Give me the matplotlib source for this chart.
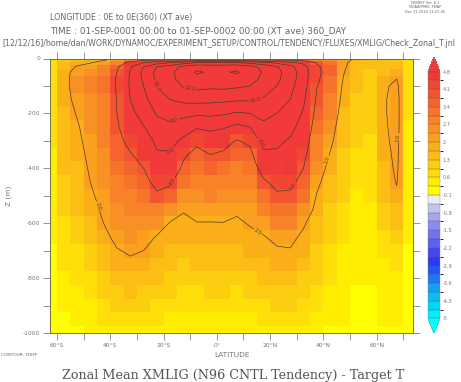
import matplotlib
matplotlib.use('Agg')
import matplotlib.pyplot as plt
import numpy as np
from matplotlib.colors import ListedColormap, BoundaryNorm

# latitude of each model column (deg) and depth of each level (m)
lat = [-62.5, -57.5, -52.5, -47.5, -42.5, -37.5, -32.5, -27.5, -22.5, -17.5,
       -12.5, -7.5, -2.5, 2.5, 7.5, 12.5, 17.5, 22.5, 27.5, 32.5,
       37.5, 42.5, 47.5, 52.5, 57.5, 62.5, 67.5, 72.5]
depth = [5, 15, 30, 50, 75, 100, 150, 200, 250, 300, 350, 400, 450, 500,
         550, 600, 650, 700, 750, 800, 850, 900, 950, 1000]

# FDIFF profile (top -> bottom) for every latitude column
fdiff_by_lat = [
    [0.9, 0.9, 0.9, 0.9, 0.85, 0.8, 0.75, 0.7, 0.65, 0.6, 0.55, 0.5, 0.45, 0.4, 0.35, 0.3, 0.25, 0.2, 0.2, 0.15, 0.15, 0.1, 0.1, 0.1],
    [1.2, 1.4, 1.6, 1.7, 1.7, 1.7, 1.65, 1.6, 1.5, 1.45, 1.4, 1.3, 1.2, 1.1, 1.0, 0.9, 0.8, 0.7, 0.6, 0.5, 0.4, 0.3, 0.2, 0.15],
    [1.6, 1.8, 2.05, 2.3, 2.4, 2.4, 2.25, 2.05, 1.9, 1.8, 1.7, 1.6, 1.5, 1.4, 1.3, 1.2, 1.05, 0.9, 0.8, 0.65, 0.5, 0.4, 0.3, 0.2],
    [1.7, 1.95, 2.3, 2.6, 2.7, 2.7, 2.6, 2.5, 2.4, 2.3, 2.2, 2.1, 2.0, 1.85, 1.7, 1.55, 1.4, 1.2, 1.0, 0.85, 0.7, 0.55, 0.4, 0.3],
    [1.9, 2.3, 2.7, 3.0, 3.1, 3.1, 3.0, 2.9, 2.8, 2.7, 2.6, 2.5, 2.4, 2.3, 2.15, 2.0, 1.8, 1.6, 1.4, 1.2, 1.0, 0.8, 0.6, 0.4],
    [2.3, 3.0, 3.7, 4.0, 4.1, 4.1, 4.05, 4.0, 3.8, 3.6, 3.4, 3.2, 3.0, 2.8, 2.6, 2.4, 2.2, 1.95, 1.75, 1.5, 1.25, 1.0, 0.75, 0.5],
    [3.0, 4.5, 5.8, 6.1, 6.2, 6.2, 6.0, 5.6, 5.0, 4.4, 3.9, 3.5, 3.2, 3.0, 2.8, 2.6, 2.4, 2.1, 1.85, 1.6, 1.35, 1.1, 0.8, 0.55],
    [3.5, 6.0, 8.0, 8.5, 8.3, 8.0, 7.4, 6.6, 5.9, 5.0, 4.5, 4.0, 3.6, 3.2, 2.9, 2.6, 2.3, 2.0, 1.75, 1.5, 1.25, 1.0, 0.75, 0.5],
    [3.6, 7.0, 10.0, 10.5, 10.4, 10.1, 9.2, 8.2, 7.2, 6.4, 5.8, 5.2, 4.4, 3.8, 3.0, 2.4, 1.95, 1.7, 1.5, 1.3, 1.1, 0.85, 0.6, 0.4],
    [3.7, 8.0, 11.0, 11.6, 11.5, 11.0, 10.0, 8.7, 7.6, 6.6, 5.8, 5.0, 4.2, 3.5, 2.5, 1.95, 1.75, 1.55, 1.35, 1.15, 0.95, 0.75, 0.5, 0.3],
    [3.8, 9.0, 12.5, 13.0, 12.7, 12.2, 10.5, 8.5, 7.0, 5.6, 4.2, 3.7, 3.1, 2.6, 2.05, 1.85, 1.65, 1.45, 1.25, 1.05, 0.85, 0.65, 0.45, 0.25],
    [3.9, 10.0, 13.5, 14.2, 13.5, 12.6, 10.6, 8.3, 6.2, 4.3, 3.6, 3.2, 2.9, 2.65, 2.2, 1.98, 1.75, 1.55, 1.35, 1.12, 0.9, 0.7, 0.48, 0.25],
    [3.9, 10.0, 13.2, 13.8, 13.3, 12.4, 10.5, 8.4, 6.5, 4.8, 4.0, 3.4, 3.0, 2.7, 2.3, 1.97, 1.8, 1.6, 1.4, 1.2, 0.95, 0.72, 0.5, 0.28],
    [3.9, 10.0, 13.3, 13.8, 13.4, 12.5, 10.4, 8.2, 6.2, 4.5, 3.8, 3.3, 2.9, 2.6, 2.3, 1.98, 1.78, 1.58, 1.38, 1.18, 0.95, 0.72, 0.5, 0.28],
    [3.9, 10.0, 13.5, 14.2, 13.3, 12.3, 10.2, 7.8, 5.5, 3.9, 3.4, 3.0, 2.7, 2.4, 2.1, 1.9, 1.7, 1.5, 1.3, 1.1, 0.9, 0.7, 0.48, 0.27],
    [3.8, 9.5, 12.6, 13.0, 12.6, 12.0, 10.2, 8.0, 6.0, 4.3, 3.6, 3.2, 2.9, 2.6, 2.3, 2.05, 1.85, 1.65, 1.45, 1.25, 1.0, 0.78, 0.55, 0.3],
    [3.7, 8.5, 11.5, 11.8, 11.6, 11.0, 9.8, 8.6, 7.5, 6.7, 5.6, 4.6, 3.8, 3.3, 2.8, 2.3, 1.95, 1.75, 1.55, 1.35, 1.12, 0.9, 0.65, 0.4],
    [3.6, 7.5, 10.2, 10.6, 10.4, 10.0, 9.0, 8.0, 7.1, 6.4, 5.7, 5.0, 4.4, 3.8, 3.2, 2.7, 2.2, 1.9, 1.65, 1.45, 1.2, 0.95, 0.7, 0.45],
    [3.5, 6.5, 8.6, 9.0, 8.9, 8.6, 8.0, 7.2, 6.5, 5.8, 5.2, 4.7, 4.3, 3.8, 3.2, 2.7, 2.2, 1.95, 1.7, 1.5, 1.25, 1.0, 0.75, 0.5],
    [3.3, 5.5, 6.8, 7.0, 6.9, 6.7, 6.3, 5.8, 5.3, 4.8, 4.4, 4.0, 3.6, 3.1, 2.6, 2.1, 1.85, 1.65, 1.45, 1.25, 1.05, 0.85, 0.6, 0.4],
    [2.8, 3.9, 4.2, 4.3, 4.2, 4.05, 3.8, 3.5, 3.2, 2.95, 2.7, 2.45, 2.2, 1.95, 1.75, 1.55, 1.4, 1.25, 1.1, 0.95, 0.8, 0.62, 0.45, 0.3],
    [2.5, 3.2, 3.4, 3.4, 3.3, 3.2, 2.95, 2.7, 2.4, 2.2, 1.95, 1.75, 1.55, 1.4, 1.25, 1.1, 0.95, 0.8, 0.7, 0.6, 0.5, 0.4, 0.3, 0.2],
    [2.3, 2.2, 2.15, 2.05, 1.95, 1.85, 1.7, 1.55, 1.45, 1.35, 1.25, 1.15, 1.05, 0.95, 0.85, 0.75, 0.65, 0.55, 0.5, 0.45, 0.4, 0.3, 0.25, 0.2],
    [1.8, 1.6, 1.5, 1.45, 1.4, 1.35, 1.25, 1.15, 1.05, 0.95, 0.85, 0.75, 0.65, 0.55, 0.5, 0.45, 0.4, 0.35, 0.3, 0.25, 0.2, 0.18, 0.15, 0.12],
    [1.4, 1.3, 1.3, 1.25, 1.2, 1.15, 1.1, 1.0, 0.95, 0.9, 0.85, 0.8, 0.7, 0.6, 0.5, 0.45, 0.4, 0.35, 0.3, 0.25, 0.2, 0.15, 0.12, 0.1],
    [1.3, 1.4, 1.5, 1.6, 1.75, 1.85, 1.9, 1.9, 1.85, 1.8, 1.7, 1.6, 1.5, 1.35, 1.2, 1.0, 0.85, 0.7, 0.55, 0.45, 0.35, 0.3, 0.25, 0.2],
    [1.2, 1.4, 1.6, 1.8, 2.0, 2.2, 2.3, 2.3, 2.3, 2.25, 2.2, 2.15, 2.05, 1.85, 1.6, 1.3, 1.0, 0.8, 0.6, 0.45, 0.35, 0.3, 0.25, 0.2],
    [0.6, 0.6, 0.6, 0.6, 0.6, 0.6, 0.6, 0.6, 0.55, 0.55, 0.5, 0.5, 0.45, 0.4, 0.35, 0.3, 0.25, 0.2, 0.2, 0.15, 0.15, 0.1, 0.1, 0.1],
]

shade_levels = [-5, -4.65, -4.3, -3.95, -3.6, -3.25, -2.9, -2.55, -2.2, -1.85,
                -1.5, -1.15, -0.8, -0.45, -0.1, 0.25, 0.6, 0.95, 1.3, 1.65,
                2.0, 2.35, 2.7, 3.05, 3.4, 3.75, 4.1, 4.45, 4.8]
cbar_ticks = [4.8, 4.1, 3.4, 2.7, 2, 1.3, 0.6, -0.1, -0.8, -1.5, -2.2, -2.9, -3.6, -4.3, -5]
contour_levels = [2, 4, 6, 8, 10, 12, 14]

x_ticks = [-60, -50, -40, -30, -20, -10, 0, 10, 20, 30, 40, 50, 60, 70]
x_labels = ['60°S', '', '40°S', '', '20°S', '', '0°', '', '20°N', '', '40°N', '', '60°N', '']
y_ticks = [0, -100, -200, -300, -400, -500, -600, -700, -800, -900, -1000]
y_labels = ['0', '', '-200', '', '-400', '', '-600', '', '-800', '', '-1000']

band_colors = ['#00f0fa', '#00d7f5', '#0abef5', '#14a0f5', '#1e78f5', '#2355f5', '#2d37f5',
               '#4646f0', '#5f5ff0', '#7373f0', '#8c8cf0', '#a5a5f0', '#c3c3f0', '#ebebfa',
               '#ffff00', '#ffee00', '#ffde0a', '#fdce0f', '#fcbe14', '#faaf19', '#faa01e',
               '#f89123', '#f78228', '#f6732a', '#f5642d', '#f35530', '#f04632', '#ee3a34']

# where the contour labels sit (lat, z)
label_spots = [(-45, -540), (15.5, -630), (41.4, -370), (69.5, -290),
               (-17.5, -445), (29, -470), (-16.8, -340), (15.5, -310),
               (-15.6, -236), (-24, -104), (15, -169), (-10, -107)]

W, H = 461, 382
grey = '#6a6a6a'

fdiff = np.array(fdiff_by_lat).T
z = -np.array(depth)

cmap = ListedColormap(band_colors)
cmap.set_over('#f23a3a')
cmap.set_under('#00ffff')
norm = BoundaryNorm(shade_levels, cmap.N)

fig = plt.figure(figsize=(W / 100, H / 100), dpi=100)
ax = fig.add_axes([50 / W, 1 - 333 / H, 363 / W, 274.5 / H])

pcm = ax.pcolormesh(lat, z, fdiff, cmap=cmap, norm=norm, shading='nearest')
cs = ax.contour(lat, z, fdiff, levels=contour_levels, colors='#4b3a2c', linewidths=0.5)

ax.set_xlim(-62.6, 73.6)
ax.set_ylim(-1000, 0)
ax.clabel(cs, fmt='%.1f', fontsize=3.6, inline=True, inline_spacing=1, manual=label_spots)

ax.set_xticks(x_ticks)
ax.set_xticklabels(x_labels)
ax.set_yticks(y_ticks)
ax.set_yticklabels(y_labels)
ax.tick_params(direction='out', length=5, width=0.5, color=grey, top=True, right=True,
               labelsize=4.3, labelcolor='#777777', pad=2)
for s in ax.spines.values():
    s.set_color('#5a5a50')
    s.set_linewidth(0.6)
ax.set_xlabel('LATITUDE', fontsize=5.3, color='#777777', labelpad=3)
ax.set_ylabel('Z (m)', fontsize=5.3, color='#777777', labelpad=8)

# colour key
cax = fig.add_axes([428 / W, 1 - 333 / H, 12 / W, 276 / H])
cb = fig.colorbar(pcm, cax=cax, extend='both', extendfrac=0.059, drawedges=True,
                  ticks=cbar_ticks)
cb.ax.set_yticklabels([f'{t:g}' for t in cbar_ticks])
cb.ax.tick_params(length=0, labelsize=3.6, labelcolor='#777777', pad=2)
cb.outline.set_linewidth(0.3)
cb.outline.set_edgecolor('#888888')
cb.dividers.set_color('#555555')
cb.dividers.set_linewidth(0.3)


# header / footer text
def ftext(x, y, s, color='#666666', **kw):
    fig.text(x / W, 1 - y / H, s, color=color, **kw)


ftext(425, 3, 'FERRET Ver. 6.1', fontsize=2.6, ha='center', va='center')
ftext(425, 7.5, 'NOAA/PMEL TMAP', fontsize=2.6, ha='center', va='center')
ftext(425, 12, 'Dec 12 2016 13:27:45', fontsize=2.6, ha='center', va='center')
ftext(50, 17.5, 'LONGITUDE : 0E to 0E(360) (XT ave)', fontsize=5.7, ha='left', va='center')
ftext(50, 30.5, 'TIME : 01-SEP-0001 00:00 to 01-SEP-0002 00:00 (XT ave) 360_DAY',
      fontsize=6.4, ha='left', va='center')
ftext(2, 44, '[12/12/16]/home/dan/WORK/DYNAMOC/EXPERIMENT_SETUP/CONTROL/TENDENCY/FLUXES/XMLIG/Check_Zonal_T.jnl',
      fontsize=5.7, ha='left', va='center')
ftext(1, 355, 'CONTOUR: FDIFF', fontsize=3.2, ha='left', va='center')
ftext(233, 376, 'Zonal Mean XMLIG (N96 CNTL Tendency) - Target T', fontsize=9.2,
      family='DejaVu Serif', ha='center', va='center', color='#555555')

fig.savefig('out.png', dpi=100)
